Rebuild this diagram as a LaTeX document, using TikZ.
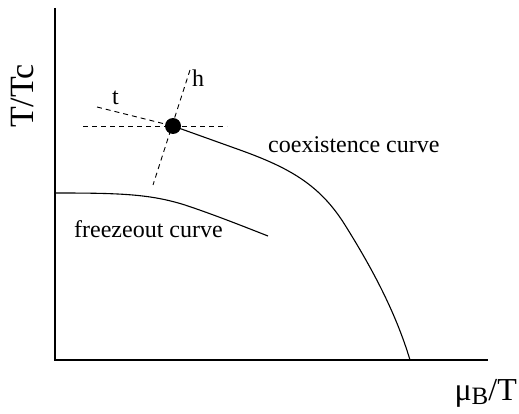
\documentclass[tikz,border=0pt]{standalone}
\usepackage{fontspec}
\setmainfont{Liberation Serif}
\begin{document}
\begin{tikzpicture}[x=1pt,y=-1pt,
  axis/.style={line width=1.1pt},
  curve/.style={line width=1.1pt},
  dash line/.style={line width=0.9pt, dash pattern=on 5pt off 4pt},
  lbl/.style={font=\fontsize{24}{28}\selectfont, inner sep=0pt},
  biglbl/.style={font=\fontsize{34}{38}\selectfont, inner sep=0pt}]
\useasboundingbox (0,0) rectangle (519,414);
\coordinate (origin) at (55,360);
\coordinate (ytop) at (55,8);
\coordinate (xend) at (488,360);
\draw[axis] (ytop) -- (origin) -- (xend);
% critical point
\coordinate (cp) at (173,126);
\coordinate (hl) at (83,126);
\coordinate (hr) at (227,126);
\coordinate (tend) at (97,107);
\coordinate (htop) at (190,70);
\coordinate (hbot) at (153,185);
\draw[dash line] (hl) -- (hr);
\draw[dash line] (tend) -- (cp);
\draw[dash line] (htop) -- (hbot);
% coexistence curve
\coordinate (cend) at (410,360);
\draw[curve] (cp) -- (240,150) .. controls (290,168) and (320,185) .. (345,225)
  .. controls (370,265) and (395,310) .. (cend);
% freezeout curve
\coordinate (fstart) at (55,193);
\coordinate (fend) at (268,236);
\draw[curve] (fstart) .. controls (120,193) and (150,194) .. (185,205)
  .. controls (215,215) and (245,227) .. (fend);
\fill (cp) circle (8);
% labels
\node[lbl, anchor=base west] (tl) at (112,105) {t};
\node[lbl, anchor=base west] (hlbl) at (192,87) {h};
\node[lbl, anchor=base west] (coex) at (268,153) {coexistence curve};
\node[lbl, anchor=base west] (frz) at (74,237) {freezeout curve};
\node[biglbl, rotate=90] (ylab) at (22,96) {T/Tc};
\node[biglbl, font=\fontsize{32}{36}\selectfont, anchor=base east] (xlab) at (517,400) {μ\raisebox{-0.3ex}{\fontsize{25}{28}\selectfont B}/T};
\end{tikzpicture}
\end{document}
